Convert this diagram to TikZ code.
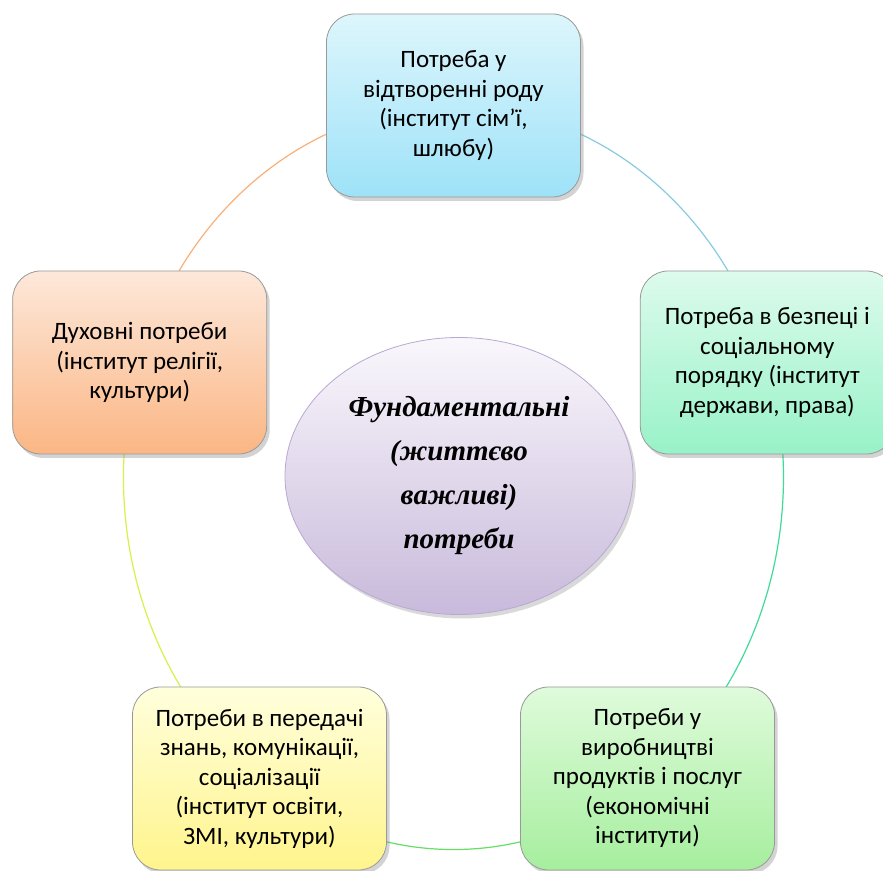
\documentclass[tikz,border=0pt]{standalone}
\usepackage{fontspec}
\setmainfont{Carlito}
\newfontfamily\corefont{Liberation Serif}
\usetikzlibrary{shapes.geometric,shadows,backgrounds}
\definecolor{famtop}{HTML}{DDF6FC}
\definecolor{fambot}{HTML}{9EE2F8}
\definecolor{statetop}{HTML}{DDFBEC}
\definecolor{statebot}{HTML}{98F2C8}
\definecolor{econtop}{HTML}{DFFBDB}
\definecolor{econbot}{HTML}{A6EE9E}
\definecolor{edutop}{HTML}{FFFFDC}
\definecolor{edubot}{HTML}{FFF48C}
\definecolor{spirittop}{HTML}{FDE8DA}
\definecolor{spiritbot}{HTML}{FBB684}
\definecolor{coretop}{HTML}{FAF7FC}
\definecolor{corebot}{HTML}{C8BADB}
\definecolor{coreline}{HTML}{B8A8D2}
\definecolor{famline}{HTML}{86CBE0}
\definecolor{stateline}{HTML}{3FDB98}
\definecolor{econline}{HTML}{66DD66}
\definecolor{eduline}{HTML}{D8F048}
\definecolor{spiritline}{HTML}{F8B07A}
\begin{document}
\begin{tikzpicture}[x=1pt,y=1pt,
  every node/.style = {align=center, font=\fontsize{25}{29.5}\selectfont},
  need/.style = {shape=rectangle, rounded corners=28pt,
     minimum width=254pt, minimum height=183pt,
     draw=black!40, line width=0.8pt,
     drop shadow={shadow xshift=3pt, shadow yshift=-4pt, opacity=0.35}},
  ring/.style = {line width=1.2pt}]
\useasboundingbox (0,0) rectangle (883,870);
\node [need, top color=famtop, bottom color=fambot] (fam) at (453.5,764.5)
  {Потреба у\\відтворенні роду\\(інститут сім’ї,\\шлюбу)};
\node [need, top color=statetop, bottom color=statebot] (state) at (767.3,507.5)
  {Потреба в безпеці і\\соціальному\\порядку (інститут\\держави, права)};
\node [need, top color=econtop, bottom color=econbot] (econ) at (647.5,91.5)
  {Потреби у\\виробництві\\продуктів і послуг\\(економічні\\інститути)};
\node [need, top color=edutop, bottom color=edubot] (edu) at (259.5,91.5)
  {Потреби в передачі\\знань, комунікації,\\соціалізації\\(інститут освіти,\\ЗМІ, культури)};
\node [need, top color=spirittop, bottom color=spiritbot] (spirit) at (139.7,507.5)
  {Духовні потреби\\(інститут релігії,\\культури)};
\node [shape=ellipse, minimum width=348pt, minimum height=277pt, inner sep=0pt,
  draw=coreline, line width=0.8pt, top color=coretop, bottom color=corebot,
  drop shadow={shadow xshift=3pt, shadow yshift=-4pt, opacity=0.3},
  font=\corefont\bfseries\itshape\fontsize{29}{44}\selectfont] (core) at (459,394)
  {Фундаментальні\\(життєво\\важливі)\\потреби};
\begin{pgfonlayer}{background}
\draw [ring, famline] (fam.center) arc [start angle=90, end angle=18, x radius=330, y radius=372];
\draw [ring, stateline] (state.center) arc [start angle=18, end angle=-54, x radius=330, y radius=372];
\draw [ring, econline] (econ.center) arc [start angle=-54, end angle=-126, x radius=330, y radius=372];
\draw [ring, eduline] (edu.center) arc [start angle=-126, end angle=-198, x radius=330, y radius=372];
\draw [ring, spiritline] (spirit.center) arc [start angle=-198, end angle=-270, x radius=330, y radius=372];
\end{pgfonlayer}
\end{tikzpicture}
\end{document}
